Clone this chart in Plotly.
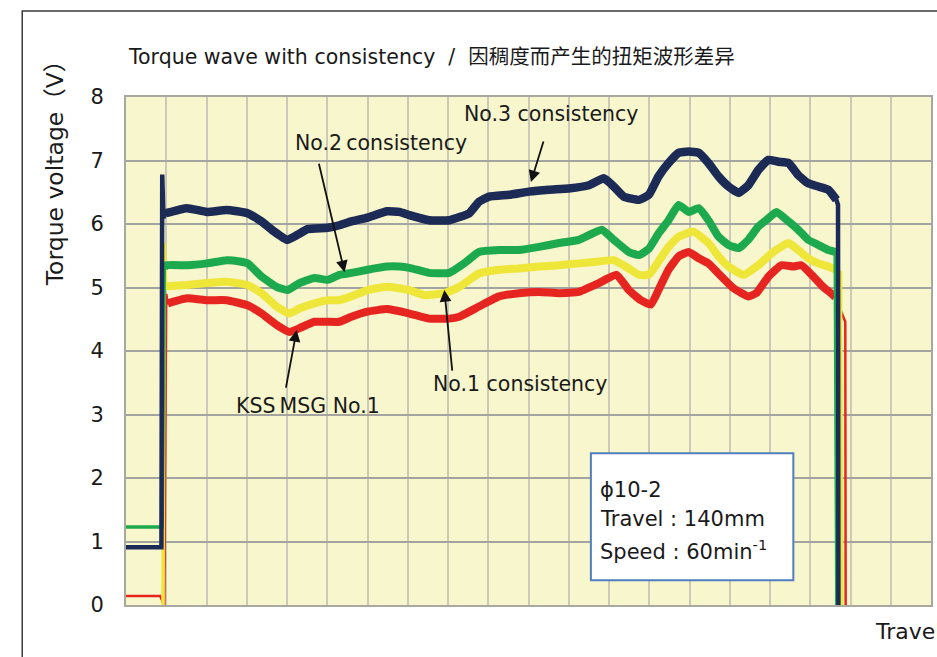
import plotly.graph_objects as go

# ---------------- data (x in grid units 0..20, y in volts) ----------------
NAVY_X = [0, 0.86, 0.88, 0.90, 0.93, 0.99, 1.51, 2.01, 2.50, 3.02, 3.37, 3.62, 4.01, 4.26, 4.51,
          5.01, 5.30, 5.60, 6.00, 6.49, 6.79, 7.04, 7.53, 8.03, 8.53, 8.77, 9.02, 9.52, 10.01,
          10.51, 11.00, 11.50, 11.87, 12.12, 12.37, 12.74, 12.99, 13.23, 13.48, 13.73, 13.98,
          14.23, 14.47, 14.72, 14.97, 15.22, 15.46, 15.71, 15.96, 16.21, 16.46, 16.70, 16.95,
          17.20, 17.45, 17.65, 17.69, 17.70]
NAVY_Y = [0.91, 0.91, 0.91, 6.78, 6.10, 6.17, 6.25, 6.19, 6.22, 6.17, 6.04, 5.91, 5.75, 5.83, 5.92,
          5.94, 5.98, 6.04, 6.10, 6.20, 6.19, 6.14, 6.06, 6.06, 6.17, 6.35, 6.43, 6.46, 6.51,
          6.54, 6.56, 6.61, 6.72, 6.59, 6.43, 6.38, 6.46, 6.75, 6.96, 7.12, 7.14,
          7.12, 6.96, 6.75, 6.59, 6.49, 6.61, 6.85, 7.01, 6.98, 6.96, 6.77, 6.64,
          6.59, 6.54, 6.38, 6.30, 0.0]
NAVY_BODY = (5, 56)

GREEN_X = [0, 0.86, 0.90, 0.95, 0.99, 1.51, 2.01, 2.50, 2.83, 3.02, 3.37, 3.74, 4.01, 4.31, 4.68,
           5.01, 5.30, 5.60, 6.00, 6.49, 6.79, 7.04, 7.53, 8.03, 8.40, 8.77, 9.27, 9.76, 10.26,
           10.76, 11.25, 11.82, 12.12, 12.49, 12.74, 12.99, 13.23, 13.48, 13.73, 13.98, 14.23,
           14.47, 14.72, 14.97, 15.22, 15.46, 15.71, 15.96, 16.16, 16.46, 16.70, 16.95, 17.20,
           17.45, 17.62, 17.66]
GREEN_Y = [1.23, 1.23, 1.23, 5.30, 5.35, 5.35, 5.38, 5.43, 5.41, 5.38, 5.17, 5.01, 4.96, 5.07, 5.15,
           5.12, 5.20, 5.23, 5.28, 5.33, 5.33, 5.31, 5.23, 5.23, 5.38, 5.56, 5.59, 5.59, 5.64,
           5.70, 5.75, 5.91, 5.75, 5.56, 5.51, 5.61, 5.85, 6.06, 6.30, 6.19, 6.25,
           6.06, 5.80, 5.67, 5.62, 5.75, 5.96, 6.09, 6.19, 6.04, 5.91, 5.75, 5.67,
           5.59, 5.56, 0.0]
GREEN_BODY = (3, 55)

YELLOW_X = [0.92, 0.95, 0.99, 1.51, 2.01, 2.50, 3.02, 3.37, 3.74, 4.06, 4.31, 4.68, 5.01, 5.30,
            5.60, 6.00, 6.49, 7.04, 7.41, 7.91, 8.28, 8.77, 9.27, 9.76, 10.26, 10.76, 11.25,
            11.75, 12.12, 12.49, 12.74, 12.99, 13.23, 13.48, 13.73, 14.10, 14.47, 14.72, 14.97,
            15.34, 15.71, 16.08, 16.46, 16.70, 16.95, 17.20, 17.45, 17.62, 17.75, 17.78]
YELLOW_Y = [-0.05, 5.70, 5.02, 5.04, 5.07, 5.09, 5.04, 4.91, 4.70, 4.59, 4.67, 4.75, 4.80, 4.80,
            4.86, 4.96, 5.01, 4.96, 4.88, 4.91, 5.01, 5.22, 5.28, 5.30, 5.33, 5.35, 5.38,
            5.41, 5.43, 5.30, 5.20, 5.20, 5.41, 5.64, 5.80, 5.88, 5.70, 5.49, 5.33,
            5.20, 5.35, 5.56, 5.70, 5.59, 5.46, 5.38, 5.33, 5.28, 5.24, -0.05]
YELLOW_BODY = (2, 48)

RED_X = [0, 0.85, 0.95, 1.00, 1.04, 1.51, 2.01, 2.50, 3.02, 3.37, 3.74, 4.06, 4.31, 4.68, 5.01,
         5.30, 5.60, 6.00, 6.49, 7.04, 7.53, 8.03, 8.28, 8.77, 9.27, 9.76, 10.26, 10.76, 11.25,
         11.75, 12.19, 12.49, 12.79, 13.04, 13.23, 13.48, 13.73, 13.98, 14.23, 14.47, 14.72,
         15.09, 15.46, 15.66, 15.96, 16.28, 16.58, 16.78, 17.08, 17.32, 17.57, 17.62, 17.87, 17.88]
RED_Y = [0.14, 0.14, 0.0, 4.90, 4.75, 4.83, 4.80, 4.80, 4.72, 4.59, 4.41, 4.30, 4.36, 4.46, 4.46,
         4.46, 4.54, 4.62, 4.66, 4.59, 4.51, 4.51, 4.54, 4.70, 4.86, 4.91, 4.93, 4.91, 4.93,
         5.07, 5.20, 4.96, 4.80, 4.73, 4.96, 5.28, 5.49, 5.56, 5.46, 5.38, 5.22,
         4.99, 4.86, 4.91, 5.17, 5.35, 5.33, 5.35, 5.17, 5.01, 4.88, 4.85, 4.46, -0.05]
RED_BODY = (4, 52)

Y_TICKS = [0, 1, 2, 3, 4, 5, 6, 7, 8]

TITLE = "Torque wave with consistency  /  因稠度而产生的扭矩波形差异"
Y_TITLE = "Torque voltage（V）"
X_TITLE = "Travel"
INFO_LINES = ["ϕ10-2", "Travel : 140mm", "Speed : 60min<sup>-1</sup>"]

# arrows: (tip_x, tip_y, tail dx px, tail dy px)
ARROWS = [(10.06, 6.66, 13, -42), (5.43, 5.24, -26, -110), (7.91, 4.96, 8, 82), (4.24, 4.33, -11, 59)]
LABELS = [("No.3 consistency", 10.56, 7.73), ("No.2\u2009consistency", 6.34, 7.28),
          ("No.1 consistency", 9.81, 3.48), ("KSS\u2009MSG No.1", 4.51, 3.13)]

NAVY = "#1c2b55"
GREEN = "#1daa4f"
YELLOW = "#efe63a"
RED = "#e62420"

FONT = "Verdana, DejaVu Sans, Noto Sans CJK SC, sans-serif"

fig = go.Figure()
series = [(RED_X, RED_Y, RED_BODY, RED, 2.5, 8),
          (YELLOW_X, YELLOW_Y, YELLOW_BODY, YELLOW, 3.5, 8),
          (GREEN_X, GREEN_Y, GREEN_BODY, GREEN, 3.5, 8),
          (NAVY_X, NAVY_Y, NAVY_BODY, NAVY, 4.5, 8.5)]
for xs, ys, (a, b), col, thin, thick in series:
    fig.add_trace(go.Scatter(x=xs, y=ys, mode="lines", line=dict(color=col, width=thin),
                             hoverinfo="skip", showlegend=False))
    fig.add_trace(go.Scatter(x=xs[a:b], y=ys[a:b], mode="lines",
                             line=dict(color=col, width=thick, shape="spline", smoothing=0.4),
                             hoverinfo="skip", showlegend=False))

fig.update_layout(
    width=937, height=657,
    margin=dict(l=126, r=4, t=97, b=52),
    paper_bgcolor="white",
    plot_bgcolor="#f8f6cd",
    font=dict(family=FONT, color="#1a1a1a"),
    xaxis=dict(range=[0, 20], dtick=1, showticklabels=False, ticks="",
               showgrid=True, gridcolor="#cbc9b8", gridwidth=2,
               showline=True, linecolor="#a8a8a0", linewidth=2, mirror=True, zeroline=False),
    yaxis=dict(range=[0, 8], tickvals=Y_TICKS, ticks="", ticklabelstandoff=16,
               tickfont=dict(size=21, color="#1a1a1a"),
               showgrid=True, gridcolor="#a3a3a0", gridwidth=2,
               showline=True, linecolor="#a8a8a0", linewidth=2, mirror=True, zeroline=False),
)

# outer frame
fig.add_shape(type="rect", xref="paper", yref="paper", x0=-0.1289, x1=1.05, y0=-0.25, y1=1.1693,
              line=dict(color="#3a3a3a", width=1.5), layer="below")

# info box
fig.add_shape(type="rect", xref="x", yref="y", x0=11.55, x1=16.58, y0=0.39, y1=2.39,
              fillcolor="white", line=dict(color="#4f7fbf", width=2), layer="above")
for txt, yy in zip(INFO_LINES, [1.81, 1.35, 0.87]):
    fig.add_annotation(x=11.73, y=yy, xref="x", yref="y", text=txt, showarrow=False,
                       xanchor="left", yanchor="middle", font=dict(size=21, color="#1a1a1a"))

# arrows
for tx, ty, dx, dy in ARROWS:
    fig.add_annotation(x=tx, y=ty, xref="x", yref="y", text="", showarrow=True,
                       ax=dx, ay=dy, arrowhead=2, arrowsize=1.3, arrowwidth=1.8,
                       arrowcolor="#111111", standoff=0)
for txt, lx, ly in LABELS:
    fig.add_annotation(x=lx, y=ly, xref="x", yref="y", text=txt, showarrow=False,
                       xanchor="center", yanchor="middle", font=dict(size=20.5, color="#1a1a1a"))

# titles
fig.add_annotation(x=0, y=1.0787, xref="paper", yref="paper", text=TITLE, showarrow=False,
                   xanchor="left", yanchor="middle", font=dict(size=20.5, color="#1a1a1a"))
fig.add_annotation(x=-0.088, y=0.862, xref="paper", yref="paper", text=Y_TITLE, showarrow=False,
                   textangle=-90, xanchor="center", yanchor="middle",
                   font=dict(size=23.5, color="#1a1a1a"))
fig.add_annotation(x=0.928, y=-0.053, xref="paper", yref="paper", text=X_TITLE, showarrow=False,
                   xanchor="left", yanchor="middle", font=dict(size=22, color="#1a1a1a"))

fig.write_html("out.html", config={"displayModeBar": False},
               post_script="document.body.style.margin='0';")
